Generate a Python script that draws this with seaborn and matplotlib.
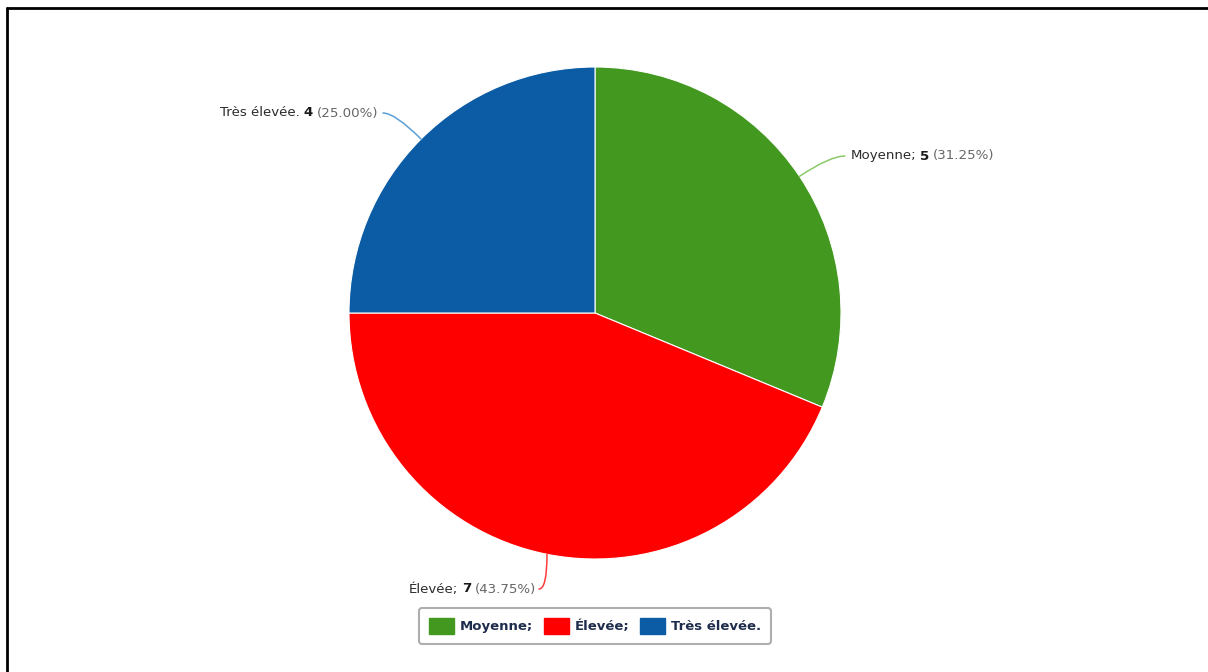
import math
import matplotlib
matplotlib.use("Agg")
import matplotlib.pyplot as plt
import seaborn as sns
from matplotlib.lines import Line2D
from matplotlib.patches import Patch

categories = ['Moyenne', 'Élevée', 'Très élevée']
label_sep = [';', ';', '.']
counts = [5, 7, 4]
sliceColors = ['#43991f', '#ff0000', '#0b5ca5']
lineColors = ['#8cc96a', '#ff3b3b', '#5b9fd6']

W, H = 1208, 672
sns.set_theme(style="white")
plt.rcParams['font.family'] = ['DejaVu Sans']

fig = plt.figure(figsize=(W / 100, H / 100), dpi=100)
ax = fig.add_axes([0, 0, 1, 1])

cx, cy, r = 595, H - 313, 246
wedges, _ = ax.pie(counts, colors=sliceColors, startangle=90, counterclock=False,
                   center=(cx, cy), radius=r,
                   wedgeprops=dict(edgecolor='white', linewidth=0.8))
ax.set_xlim(0, W)
ax.set_ylim(0, H)
ax.set_aspect('equal', adjustable='box')
ax.axis('off')

total = sum(counts)
renderer = fig.canvas.get_renderer()

# label anchor (image px): text x, text y, side, line start x, curve angle at pie
labelPos = {
    'Moyenne': (851, 156, 'left', 845, None),
    'Élevée': (536, 589, 'right', 539, 90),
    'Très élevée': (378, 113, 'right', 383, None),
}


def draw_label(x, y, side, parts):
    texts = []
    for s, weight, color in parts:
        t = ax.text(0, 0, s, fontsize=9.6, fontweight=weight, color=color, va='center', ha='left')
        texts.append(t)
    widths = [t.get_window_extent(renderer).width for t in texts]
    space = 3.5
    totalW = sum(widths) + space * (len(widths) - 1)
    x0 = x if side == 'left' else x - totalW
    for t, w in zip(texts, widths):
        t.set_position((x0, H - y))
        x0 += w + space


for i, w in enumerate(wedges):
    mid = (w.theta1 + w.theta2) / 2
    ex = w.center[0] + r * math.cos(math.radians(mid))
    ey = w.center[1] + r * math.sin(math.radians(mid))
    tx, ty, side, lx, angB = labelPos[categories[i]]
    pct = counts[i] / total * 100
    draw_label(tx, ty, side, [
        (categories[i] + label_sep[i], 'medium', '#2b2b2b'),
        (str(counts[i]), 'bold', '#1a1a1a'),
        ('(%.2f%%)' % pct, 'normal', '#666666'),
    ])
    if angB is None:
        angB = mid
    ax.annotate('', xy=(ex, ey), xytext=(lx, H - ty),
                arrowprops=dict(arrowstyle='-', color=lineColors[i], lw=1.1,
                                shrinkA=0, shrinkB=0,
                                connectionstyle='angle3,angleA=0,angleB=%.2f' % angB))

handles = [Patch(facecolor=c, edgecolor=c, label=n + s)
           for c, n, s in zip(sliceColors, categories, label_sep)]
leg = fig.legend(handles=handles, loc='center', bbox_to_anchor=(595 / W, 1 - 626 / H),
                 ncol=3, frameon=True, fancybox=True, fontsize=9.5,
                 handlelength=1.9, handleheight=1.4, columnspacing=0.8, handletextpad=0.45,
                 borderpad=0.75, borderaxespad=0)
leg.get_frame().set_edgecolor('#9a9a9a')
leg.get_frame().set_linewidth(1.5)
for t in leg.get_texts():
    t.set_color('#1f2d4d')
    t.set_fontweight('semibold')

# cropped screenshot border (top and left)
fig.add_artist(Line2D([6.5 / W, 1], [1 - 7.5 / H, 1 - 7.5 / H], color='black', lw=2, transform=fig.transFigure))
fig.add_artist(Line2D([6.5 / W, 6.5 / W], [0, 1 - 7.5 / H], color='black', lw=2, transform=fig.transFigure))

fig.savefig('out.png', dpi=100, facecolor='white')
